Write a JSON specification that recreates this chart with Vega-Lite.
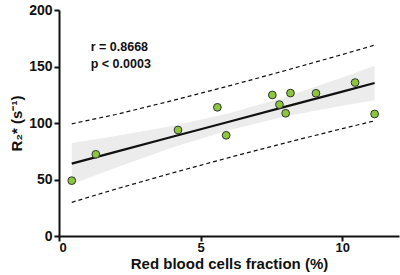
{
  "$schema": "https://vega.github.io/schema/vega-lite/v6.json",
  "width": 340,
  "height": 226,
  "autosize": {"type": "none"},
  "padding": {"left": 59, "top": 10, "right": 1, "bottom": 39},
  "background": "white",
  "config": {
    "view": {"stroke": null},
    "font": "Liberation Sans",
    "axis": {
      "grid": false,
      "domainColor": "#111",
      "domainWidth": 2,
      "tickColor": "#111",
      "tickWidth": 2,
      "tickSize": 5,
      "labelFont": "Liberation Sans",
      "labelFontWeight": "bold",
      "labelFontSize": 14,
      "labelColor": "#111",
      "titleFont": "Liberation Sans",
      "titleFontWeight": "bold",
      "titleFontSize": 15,
      "titleColor": "#111"
    }
  },
  "datasets": {
    "pts": [
      {"x": 0.45, "y": 49.0},
      {"x": 1.30, "y": 72.3},
      {"x": 4.20, "y": 93.8},
      {"x": 5.59, "y": 113.9},
      {"x": 5.90, "y": 89.1},
      {"x": 7.53, "y": 124.8},
      {"x": 7.78, "y": 116.3},
      {"x": 8.17, "y": 126.5},
      {"x": 8.00, "y": 108.6},
      {"x": 9.07, "y": 126.3},
      {"x": 10.45, "y": 135.8},
      {"x": 11.14, "y": 108.0}
    ],
    "fit": [
      {"x": 0.45, "fit": 64.1, "lo": 45.8, "hi": 82.4, "plo": 29.8, "phi": 99.3},
      {"x": 2, "fit": 74.4, "lo": 60.4, "hi": 88.4, "plo": 41.5, "phi": 107.5},
      {"x": 4, "fit": 87.8, "lo": 78.3, "hi": 97.3, "plo": 55.8, "phi": 119.8},
      {"x": 6, "fit": 101.1, "lo": 93.6, "hi": 108.6, "plo": 69.4, "phi": 132.8},
      {"x": 8, "fit": 114.5, "lo": 106.0, "hi": 123.0, "plo": 82.5, "phi": 146.5},
      {"x": 10, "fit": 127.8, "lo": 115.3, "hi": 140.3, "plo": 95.0, "phi": 160.6},
      {"x": 11.14, "fit": 135.4, "lo": 120.1, "hi": 150.7, "plo": 101.9, "phi": 168.9}
    ],
    "ann": [
      {"x": 1.12, "y": 167, "t": "r = 0.8668"},
      {"x": 1.12, "y": 152, "t": "p < 0.0003"}
    ]
  },
  "layer": [
    {
      "data": {"name": "fit"},
      "mark": {"type": "area", "color": "#ececec", "opacity": 1},
      "encoding": {
        "x": {"field": "x", "type": "quantitative", "scale": {"domain": [0, 12], "nice": false}, "axis": {"values": [0, 5, 10], "title": "Red blood cells fraction (%)", "titlePadding": 2, "labelPadding": 0, "labelFontSize": 13}},
        "y": {"field": "lo", "type": "quantitative", "scale": {"domain": [0, 200], "nice": false}, "axis": {"values": [0, 50, 100, 150, 200], "title": "R₂* (s⁻¹)", "titlePadding": 4, "labelPadding": 2}},
        "y2": {"field": "hi"}
      }
    },
    {
      "data": {"name": "fit"},
      "mark": {"type": "line", "color": "#111", "strokeWidth": 1.2, "strokeDash": [4, 3]},
      "encoding": {
        "x": {"field": "x", "type": "quantitative"},
        "y": {"field": "plo", "type": "quantitative"}
      }
    },
    {
      "data": {"name": "fit"},
      "mark": {"type": "line", "color": "#111", "strokeWidth": 1.2, "strokeDash": [4, 3]},
      "encoding": {
        "x": {"field": "x", "type": "quantitative"},
        "y": {"field": "phi", "type": "quantitative"}
      }
    },
    {
      "data": {"name": "fit"},
      "mark": {"type": "line", "color": "#111", "strokeWidth": 2.2},
      "encoding": {
        "x": {"field": "x", "type": "quantitative"},
        "y": {"field": "fit", "type": "quantitative"}
      }
    },
    {
      "data": {"name": "pts"},
      "mark": {"type": "point", "filled": true, "fill": "#8cc63f", "stroke": "#333", "strokeWidth": 1, "size": 60, "opacity": 1},
      "encoding": {
        "x": {"field": "x", "type": "quantitative"},
        "y": {"field": "y", "type": "quantitative"}
      }
    },
    {
      "data": {"name": "ann"},
      "mark": {"type": "text", "align": "left", "baseline": "middle", "fontWeight": "bold", "fontSize": 12.5, "color": "#111"},
      "encoding": {
        "x": {"field": "x", "type": "quantitative"},
        "y": {"field": "y", "type": "quantitative"},
        "text": {"field": "t"}
      }
    }
  ]
}
